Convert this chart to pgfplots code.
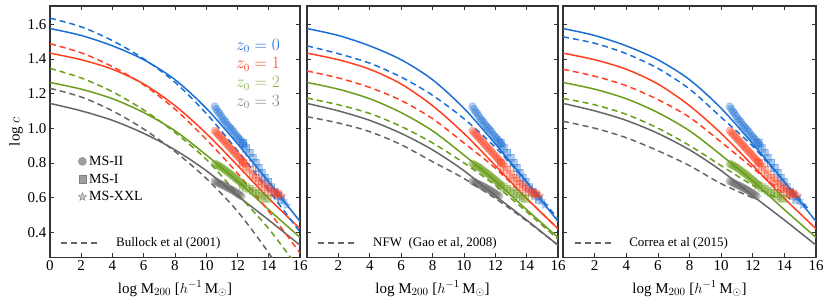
\documentclass[border=0pt]{standalone}
\usepackage{fontspec}
\setmainfont{Liberation Serif}
\usepackage{pgfplots}
\pgfplotsset{compat=1.18}
\usetikzlibrary{plotmarks}
\definecolor{cb}{HTML}{1C6FD4}
\definecolor{cr}{HTML}{FF4020}
\definecolor{cg}{HTML}{6A9E1C}
\definecolor{ck}{HTML}{666666}
\definecolor{frame}{HTML}{333333}

\pgfdeclareplotmark{fivestar}{%
  \pgfpathmoveto{\pgfqpointpolar{90}{\pgfplotmarksize}}%
  \pgfpathlineto{\pgfqpointpolar{126}{0.42\pgfplotmarksize}}%
  \pgfpathlineto{\pgfqpointpolar{162}{\pgfplotmarksize}}%
  \pgfpathlineto{\pgfqpointpolar{198}{0.42\pgfplotmarksize}}%
  \pgfpathlineto{\pgfqpointpolar{234}{\pgfplotmarksize}}%
  \pgfpathlineto{\pgfqpointpolar{270}{0.42\pgfplotmarksize}}%
  \pgfpathlineto{\pgfqpointpolar{306}{\pgfplotmarksize}}%
  \pgfpathlineto{\pgfqpointpolar{342}{0.42\pgfplotmarksize}}%
  \pgfpathlineto{\pgfqpointpolar{18}{\pgfplotmarksize}}%
  \pgfpathlineto{\pgfqpointpolar{54}{0.42\pgfplotmarksize}}%
  \pgfpathclose
  \pgfusepathqfillstroke
}

\pgfplotsset{
  panel/.style={
    scale only axis, width=250pt, height=251.3pt,
    xmin=0, xmax=16, ymin=0.255, ymax=1.705,
    xtick={0,2,...,16}, ytick={0.4,0.6,...,1.61},
    yticklabel style={/pgf/number format/fixed,/pgf/number format/fixed zerofill,/pgf/number format/precision=1},
    tick align=inside, tick pos=both, major tick length=4pt,
    axis line style={frame, line width=1.2pt},
    every tick/.style={frame, line width=0.6pt},
    /pgf/number format/assume math mode=true,
    tick label style={font=\fontsize{15}{15}\selectfont},
    xlabel={log M$_{200}$ [$h^{-1}\,$M$_\odot$]},
    xlabel style={font=\fontsize{15}{15}\selectfont, yshift=-3pt},
    clip=true,
  },
  solid/.style={line width=1.5pt},
  dsh/.style={line width=1.5pt, dash pattern=on 6pt off 4pt},
  pt/.style={only marks, mark=*, mark size=3.9pt, mark options={draw opacity=0.35, fill opacity=0.35}},
  sq/.style={only marks, mark=square*, mark size=3.6pt, mark options={draw opacity=0.35, fill opacity=0.35}},
  st/.style={only marks, mark=fivestar, mark size=4.2pt, mark options={draw opacity=0.35, fill opacity=0.35}},
  dlegend/.style={legend style={at={(0.03,0.02)}, anchor=south west, draw=none, fill=none,
     font=\fontsize{13}{13}\selectfont, legend cell align=left},
     legend image code/.code={\draw[##1] (0pt,0pt) -- (38pt,0pt);}},
}

% solid curves (common)
\pgfplotstableread{
x b r g k
0 1.575 1.433 1.264 1.143
2 1.535 1.395 1.225 1.100
4 1.475 1.340 1.170 1.045
6 1.395 1.255 1.090 0.970
8 1.280 1.130 0.985 0.875
10 1.115 0.970 0.845 0.755
12 0.910 0.785 0.695 0.610
14 0.690 0.595 0.530 0.470
16 0.462 0.420 0.370 0.325
}\solidtab

% Bullock
\pgfplotstableread{
x b r g k
0 1.635 1.487 1.345 1.230
2 1.585 1.435 1.290 1.180
4 1.505 1.355 1.210 1.100
6 1.400 1.250 1.105 0.995
8 1.265 1.110 0.975 0.865
10 1.085 0.935 0.820 0.710
12 0.870 0.740 0.620 0.520
14 0.640 0.520 0.420 0.280
16 0.400 0.280 0.180 0.000
}\bultab

% Gao NFW
\pgfplotstableread{
x b r g k
0 1.475 1.330 1.174 1.066
2 1.430 1.290 1.135 1.030
4 1.375 1.235 1.085 0.980
6 1.295 1.160 1.010 0.905
8 1.190 1.055 0.915 0.807
10 1.055 0.915 0.800 0.710
12 0.890 0.770 0.670 0.595
14 0.690 0.595 0.518 0.465
16 0.478 0.420 0.360 0.325
}\gaotab

% Correa
\pgfplotstableread{
x b
0 1.527
2 1.490
4 1.430
6 1.345
8 1.226
10 1.063
12 0.895
14 0.690
15.6 0.525
}\corb
\pgfplotstableread{
x r
0 1.340
2 1.300
4 1.245
6 1.165
8 1.063
10 0.920
12 0.770
14.5 0.580
}\corr
\pgfplotstableread{
x g
0 1.172
2 1.135
4 1.080
6 1.000
8 0.900
10 0.784
12 0.670
13.5 0.600
}\corg
\pgfplotstableread{
x k
0 1.040
2 1.000
4 0.945
6 0.870
8 0.784
10 0.680
12.2 0.590
}\cork

% simulation points
\pgfplotstableread{
x y
10.55 1.125
10.65 1.110
10.75 1.095
10.85 1.085
10.95 1.070
11.05 1.055
11.15 1.045
11.25 1.035
11.35 1.020
11.45 1.010
11.55 1.000
11.65 0.990
11.75 0.980
11.85 0.965
11.95 0.955
12.05 0.945
12.15 0.935
12.25 0.925
12.35 0.910
12.45 0.900
}\bcirc
\pgfplotstableread{
x y
12.35 0.915
12.55 0.885
12.75 0.860
12.95 0.830
13.15 0.800
13.35 0.770
13.55 0.745
13.75 0.715
13.95 0.690
14.15 0.660
14.35 0.635
14.55 0.610
14.75 0.590
}\bsq
\pgfplotstableread{
x y
14.55 0.625
14.75 0.600
14.95 0.580
15.15 0.555
}\bst
\pgfplotstableread{
x y
10.55 0.985
10.65 0.975
10.75 0.965
10.85 0.955
10.95 0.945
11.05 0.935
11.15 0.925
11.25 0.915
11.35 0.905
11.45 0.895
11.55 0.885
11.65 0.875
11.75 0.865
11.85 0.855
11.95 0.845
12.05 0.835
12.15 0.825
12.25 0.815
12.35 0.805
12.45 0.795
}\rcirc
\pgfplotstableread{
x y
12.35 0.800
12.55 0.780
12.75 0.760
12.95 0.735
13.15 0.715
13.35 0.695
13.55 0.680
13.75 0.665
13.95 0.650
14.15 0.640
14.35 0.630
14.55 0.620
}\rsq
\pgfplotstableread{
x y
14.45 0.625
14.65 0.615
14.85 0.610
}\rst
\pgfplotstableread{
x y
10.55 0.795
10.65 0.790
10.75 0.785
10.85 0.780
10.95 0.775
11.05 0.770
11.15 0.762
11.25 0.755
11.35 0.748
11.45 0.742
11.55 0.735
11.65 0.728
11.75 0.720
11.85 0.712
11.95 0.705
12.05 0.698
12.15 0.690
12.25 0.682
12.35 0.675
}\gcirc
\pgfplotstableread{
x y
12.35 0.670
12.55 0.660
12.75 0.650
12.95 0.640
13.15 0.630
13.35 0.620
13.55 0.610
13.75 0.600
13.90 0.595
}\gsq
\pgfplotstableread{
x y
10.55 0.695
10.65 0.690
10.75 0.685
10.85 0.680
10.95 0.676
11.05 0.672
11.15 0.668
11.25 0.663
11.35 0.658
11.45 0.653
11.55 0.648
11.65 0.643
11.75 0.638
11.85 0.632
11.95 0.626
12.05 0.620
12.15 0.614
12.25 0.608
}\kcirc

\newcommand{\simpoints}{%
  \addplot[pt, color=cb] table {\bcirc};
  \addplot[sq, color=cb] table {\bsq};
  \addplot[st, color=cb] table {\bst};
  \addplot[pt, color=cr] table {\rcirc};
  \addplot[sq, color=cr] table {\rsq};
  \addplot[st, color=cr] table {\rst};
  \addplot[pt, color=cg] table {\gcirc};
  \addplot[sq, color=cg] table {\gsq};
  \addplot[pt, color=ck] table {\kcirc};
}
\newcommand{\solids}{%
  \addplot[solid, color=cb, smooth] table[x=x,y=b] {\solidtab};
  \addplot[solid, color=cr, smooth] table[x=x,y=r] {\solidtab};
  \addplot[solid, color=cg, smooth] table[x=x,y=g] {\solidtab};
  \addplot[solid, color=ck, smooth] table[x=x,y=k] {\solidtab};
}

\begin{document}
\begin{tikzpicture}
\useasboundingbox (-50pt,-49pt) rectangle (781pt,257.3pt);

% ---------- panel 1 ----------
\begin{axis}[panel, at={(0pt,0pt)}, anchor=south west,
  ylabel={log $c$}, ylabel style={font=\fontsize{15}{15}\selectfont, yshift=-2pt},
  dlegend]
\addlegendimage{dsh, ck}
\addlegendentry{\hspace{14pt}Bullock et al (2001)}
\simpoints
\solids
\addplot[dsh, color=cb, smooth, forget plot] table[x=x,y=b] {\bultab};
\addplot[dsh, color=cr, smooth, forget plot] table[x=x,y=r] {\bultab};
\addplot[dsh, color=cg, smooth, forget plot] table[x=x,y=g] {\bultab};
\addplot[dsh, color=ck, smooth, forget plot] table[x=x,y=k] {\bultab};
\end{axis}

% marker legend
\begin{axis}[scale only axis, width=250pt, height=251.3pt, at={(0pt,0pt)}, anchor=south west,
  hide axis, xmin=0, xmax=16, ymin=0.255, ymax=1.705,
  legend style={at={(0.11,0.21)}, anchor=south west, draw=none, fill=none,
     font=\fontsize{14}{14}\selectfont, legend cell align=left,
     row sep=3pt, inner sep=0pt,
     /tikz/every even column/.style={column sep=0pt}},
  legend image code/.code={\draw[#1] plot coordinates {(4.5pt,0pt)};\path (0pt,0pt) (9pt,0pt);}]
\addlegendimage{only marks, mark=*, mark size=4pt, draw=gray, fill=gray!75}
\addlegendentry{MS-II}
\addlegendimage{only marks, mark=square*, mark size=3.7pt, draw=gray, fill=gray!75}
\addlegendentry{MS-I}
\addlegendimage{only marks, mark=fivestar, mark size=4.3pt, draw=gray, fill=gray!45}
\addlegendentry{MS-XXL}
\end{axis}

% z0 legend
\begin{axis}[scale only axis, width=250pt, height=251.3pt, at={(0pt,0pt)}, anchor=south west,
  hide axis, xmin=0, xmax=16, ymin=0.255, ymax=1.705,
  legend style={at={(0.94,0.885)}, anchor=north east, draw=none, fill=none,
     font=\fontsize{16}{16}\selectfont, legend cell align=left, row sep=2pt},
  legend image code/.code={}]
\addlegendimage{empty legend}
\addlegendentry{\textcolor{cb}{$z_0=0$}}
\addlegendimage{empty legend}
\addlegendentry{\textcolor{cr}{$z_0=1$}}
\addlegendimage{empty legend}
\addlegendentry{\textcolor{cg!80!white}{$z_0=2$}}
\addlegendimage{empty legend}
\addlegendentry{\textcolor{gray}{$z_0=3$}}
\end{axis}

% ---------- panel 2 ----------
\begin{axis}[panel, width=251pt, at={(257pt,0pt)}, anchor=south west,
  yticklabels={}, xtick={0,2,...,16}, xticklabels={,2,4,6,8,10,12,14,16},
  dlegend]
\addlegendimage{dsh, ck}
\addlegendentry{\hspace{14pt}NFW\ \ (Gao et al, 2008)}
\simpoints
\solids
\addplot[dsh, color=cb, smooth, forget plot] table[x=x,y=b] {\gaotab};
\addplot[dsh, color=cr, smooth, forget plot] table[x=x,y=r] {\gaotab};
\addplot[dsh, color=cg, smooth, forget plot] table[x=x,y=g] {\gaotab};
\addplot[dsh, color=ck, smooth, forget plot] table[x=x,y=k] {\gaotab};
\end{axis}

% ---------- panel 3 ----------
\begin{axis}[panel, width=253pt, at={(513pt,0pt)}, anchor=south west,
  yticklabels={}, xtick={0,2,...,16}, xticklabels={,2,4,6,8,10,12,14,16},
  dlegend]
\addlegendimage{dsh, ck}
\addlegendentry{\hspace{14pt}Correa et al (2015)}
\simpoints
\solids
\addplot[dsh, color=cb, smooth, forget plot] table[x=x,y=b] {\corb};
\addplot[dsh, color=cr, smooth, forget plot] table[x=x,y=r] {\corr};
\addplot[dsh, color=cg, smooth, forget plot] table[x=x,y=g] {\corg};
\addplot[dsh, color=ck, smooth, forget plot] table[x=x,y=k] {\cork};
\end{axis}
\end{tikzpicture}
\end{document}
